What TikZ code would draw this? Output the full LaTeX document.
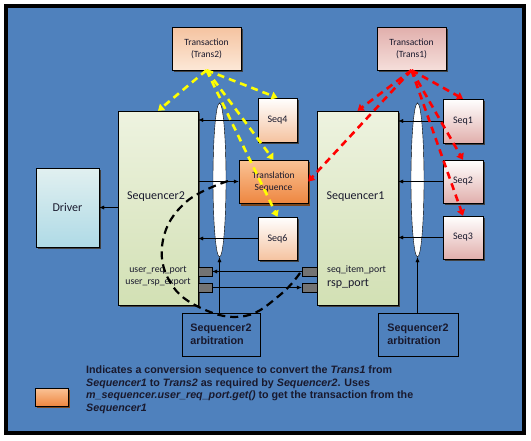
\documentclass[tikz,border=0pt]{standalone}
\usepackage{fontspec}
\setmainfont{Carlito}
\newfontfamily\arialfont{Liberation Sans}
\usepackage{tikz}
\usetikzlibrary{arrows.meta}
\usetikzlibrary{shapes.geometric}
\usetikzlibrary{shadows}

\definecolor{bgblue}{RGB}{79,129,189}
\definecolor{txtdark}{RGB}{25,25,45}
\definecolor{peachlight}{RGB}{252,232,215}
\definecolor{peachdark}{RGB}{245,195,160}
\definecolor{pinklight}{RGB}{245,222,218}
\definecolor{pinkdark}{RGB}{225,175,172}
\definecolor{greenlight}{RGB}{238,243,224}
\definecolor{greendark}{RGB}{210,224,180}
\definecolor{cyanlight}{RGB}{225,240,240}
\definecolor{cyandark}{RGB}{175,218,230}
\definecolor{orangelight}{RGB}{250,195,150}
\definecolor{orangedark}{RGB}{238,135,65}
\definecolor{shadowbrown}{RGB}{120,70,30}
\definecolor{myyellow}{RGB}{255,255,0}
\definecolor{myred}{RGB}{255,0,0}

\tikzset{
  mybox/.style={
    draw=black,
    shape=rectangle,
    thin,
    align=center,
    inner sep=0pt,
    text=txtdark,
    drop shadow={shadow xshift=2pt,shadow yshift=-2pt,fill=black!75,opacity=1},
  },
  mysmall/.style={
    mybox,
    minimum width=40,
    minimum height=44,
    font=\fontsize{10}{12}\selectfont,
  },
  mytrans/.style={
    mybox,
    minimum width=69,
    minimum height=43,
    font=\fontsize{9.5}{12}\selectfont,
  },
  mysequencer/.style={
    mybox,
    minimum width=80,
    minimum height=194,
    top color=greenlight,
    bottom color=greendark,
  },
  myellipse/.style={
    draw=black,
    shape=ellipse,
    fill=white,
    thin,
    inner sep=0pt,
    minimum width=13,
    minimum height=154,
  },
  myarb/.style={
    draw=black,
    thin,
    align=left,
    minimum width=79,
    minimum height=43,
    text=txtdark,
    font=\arialfont\bfseries\fontsize{10.8}{13}\selectfont,
  },
  myport/.style={
    draw=black,
    fill=black!55,
    thin,
    inner sep=0pt,
    minimum width=14,
    minimum height=9,
  },
  myarrow/.style={
    draw=black,
    thin,
    -{Latex[length=5pt,width=4pt]},
  },
  yellowarrow/.style={
    draw=myyellow,
    line width=2.6pt,
    dash pattern=on 7pt off 5pt,
    -{Triangle[length=6pt,width=8pt]},
  },
  redarrow/.style={
    draw=myred,
    line width=2.6pt,
    dash pattern=on 7pt off 5pt,
    -{Triangle[length=6pt,width=8pt]},
  },
}

\begin{document}
\begin{tikzpicture}[x=1pt,y=-1pt]
  \useasboundingbox (0,0) rectangle (531,440);
  \draw [line width=4pt, fill=bgblue] (6,6) rectangle (524,433);

  % top transactions
  \node [mytrans, top color=peachdark, bottom color=peachlight] (Trans2) at (206.5,48.5) {Transaction\\(Trans2)};
  \node [mytrans, top color=pinkdark, bottom color=pinklight] (Trans1) at (411.5,48.5) {Transaction\\(Trans1)};

  % sequencers and driver
  \node [mysequencer] (Sequencer2) at (158,208) {};
  \node [mysequencer, minimum width=81] (Sequencer1) at (357.5,208) {};
  \node [text=txtdark, font=\fontsize{12}{14}\selectfont] (Seq2Text) at (156,197) {Sequencer2};
  \node [text=txtdark, font=\fontsize{12}{14}\selectfont] (Seq1Text) at (355.5,197) {Sequencer1};
  \node [mybox, minimum width=63, minimum height=79, top color=cyanlight, bottom color=cyandark,
         font=\fontsize{12}{14}\selectfont] (Driver) at (67.5,207.5) {Driver};

  \node [myellipse] (Ell2) at (219.5,180) {};
  \node [myellipse] (Ell1) at (417.5,180) {};

  % small sequences
  \node [mysmall, minimum width=39, top color=white, bottom color=peachdark] (Seq4) at (277.5,120) {Seq4};
  \node [mysmall, minimum width=39, minimum height=43, top color=white, bottom color=peachdark] (Seq6) at (277.5,238.5) {Seq6};
  \node [mytrans, top color=orangelight, bottom color=orangedark,
         drop shadow={shadow xshift=2pt,shadow yshift=-3pt,fill=shadowbrown,opacity=1}] (Translation) at (273.5,181.5) {Translation\\Sequence};
  \node [mysmall, top color=white, bottom color=pinkdark] (Seq1) at (463,121) {Seq1};
  \node [mysmall, minimum height=43, top color=white, bottom color=pinkdark] (Seq2) at (463,181.5) {Seq2};
  \node [mysmall, minimum height=43, top color=white, bottom color=pinkdark] (Seq3) at (463,237.5) {Seq3};

  % ports
  \node [myport] (ReqPort) at (205,271.5) {};
  \node [myport] (RspExport) at (205,287.5) {};
  \node [myport, minimum width=15] (ItemPort) at (309.5,271.5) {};
  \node [myport, minimum width=15] (RspPort) at (309.5,287.5) {};
  \node [text=txtdark, font=\fontsize{9.8}{10}\selectfont] (ReqText) at (158,270) {user\_req\_port};
  \node [text=txtdark, font=\fontsize{9.8}{10}\selectfont] (RspText) at (158,282) {user\_rsp\_export};
  \node [text=txtdark, font=\fontsize{9.8}{10}\selectfont, anchor=west, inner sep=0pt] (ItemText) at (327,270) {seq\_item\_port};
  \node [text=txtdark, font=\fontsize{12}{13}\selectfont, anchor=west, inner sep=0pt] (RspPortText) at (327,284) {rsp\_port};

  % arbitration
  \node [myarb, minimum width=78] (Arb2) at (221,334.5) {Sequencer2\\arbitration};
  \node [myarb, minimum width=80] (Arb1) at (418,334.5) {Sequencer2\\arbitration};

  % black connections
  \draw [myarrow] (Seq4.west) -- (Seq4.west -| Sequencer2.east);
  \draw [myarrow] (Seq6.west) -- (Seq6.west -| Sequencer2.east);
  \draw [myarrow] (Translation.west -| Sequencer2.east) -- (Translation.west);
  \draw [myarrow] (Driver.east -| Sequencer2.west) -- (Driver.east);
  \draw [myarrow] (Seq1.west) -- (Seq1.west -| Sequencer1.east);
  \draw [myarrow] (Seq2.west) -- (Seq2.west -| Sequencer1.east);
  \draw [myarrow] (Seq3.west) -- (Seq3.west -| Sequencer1.east);
  \draw [myarrow] (Ell2.south |- Arb2.north) -- (Ell2.south);
  \draw [myarrow] (Ell1.south |- Arb1.north) -- (Ell1.south);
  \draw [myarrow] (ItemPort.west) -- (ReqPort.east);
  \draw [myarrow] (RspExport.east) -- (RspPort.west);

  % conversion path
  \draw [black, line width=2.2pt, dash pattern=on 8pt off 5pt]
    plot [smooth, tension=0.7] coordinates {(228,181) (186,202) (163,240) (170,282) (203,309) (245,316) (280,295) (300,273)};

  % yellow: Trans2
  \draw [yellowarrow] (Trans2.south) -- (Sequencer2.north);
  \draw [yellowarrow] (Trans2.south) -- (Seq4.north);
  \draw [yellowarrow] (Trans2.south) -- (Translation.north);
  \draw [yellowarrow] (Trans2.south) -- (Seq6.north);

  % red: Trans1
  \draw [redarrow] (Trans1.south) -- (Sequencer1.north);
  \draw [redarrow] (Trans1.south) -- (Translation.east);
  \draw [redarrow] (Trans1.south) -- (Seq1.north);
  \draw [redarrow] (Trans1.south) -- (Seq2.north);
  \draw [redarrow] (Trans1.south) -- (Seq3.north);

  % legend
  \node [mybox, minimum width=33, minimum height=18, top color=orangelight, bottom color=orangedark,
         drop shadow={shadow xshift=2pt,shadow yshift=-2pt,fill=shadowbrown,opacity=1}] (LegendBox) at (51.5,397) {};
  \node [anchor=north west, inner sep=0pt, align=left, text=txtdark,
         font=\arialfont\bfseries\fontsize{10.7}{12.5}\selectfont] (Legend) at (86,366)
    {Indicates a conversion sequence to convert the \textit{Trans1} from\\
     \textit{Sequencer1} to \textit{Trans2} as required by \textit{Sequencer2}. Uses\\
     \textit{m\_sequencer.user\_req\_port.get()} to get the transaction from the\\
     \textit{Sequencer1}};
\end{tikzpicture}
\end{document}
